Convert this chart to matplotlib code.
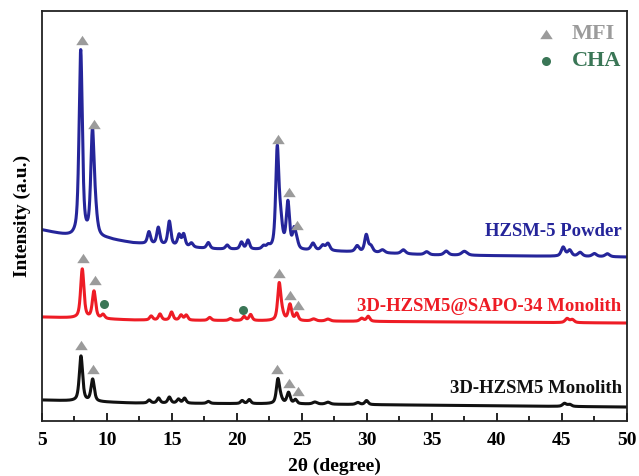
import numpy as np
import matplotlib.pyplot as plt
from matplotlib.path import Path

plt.rcParams["font.family"] = "Liberation Serif"
plt.rcParams["font.weight"] = "bold"
plt.rcParams["axes.labelweight"] = "bold"

# background knots (2theta, intensity) for each pattern, already offset
powder_bg_2theta = [5, 6, 7.3, 10, 12, 18, 22, 27, 35, 50]
powder_bg = [191, 188, 184, 182, 178, 172, 171, 170, 166, 164]
sapo_bg_2theta = [5, 7.5, 12, 25, 50]
sapo_bg = [104, 103, 101, 100, 98]
mono_bg_2theta = [5, 7.5, 12, 25, 50]
mono_bg = [21, 20, 18, 17, 14]

# reflections: position (2theta), height above background, FWHM
powder_pos = [7.98, 8.88, 9.1, 13.23, 13.95, 14.8, 15.55, 15.9, 16.5, 17.8, 19.25,
              20.35, 20.85, 22.05, 22.4, 23.1, 23.35, 23.92, 24.4, 24.6, 25.85, 26.6,
              27.0, 29.25, 29.95, 30.3, 31.2, 32.8, 34.6, 36.1, 37.5, 45.1, 45.6,
              46.4, 47.5, 48.5]
powder_height = [186, 100, 20, 12, 17, 24, 11, 12, 4, 6, 4,
                 7, 9, 3, 3, 96, 26, 46, 18, 7, 7, 5,
                 7, 6, 17, 6, 3, 4, 3, 4, 4, 9, 6,
                 4, 3, 3]
powder_fwhm = [0.3, 0.3, 0.35, 0.28, 0.28, 0.28, 0.28, 0.28, 0.3, 0.3, 0.3,
               0.28, 0.28, 0.3, 0.3, 0.28, 0.35, 0.3, 0.28, 0.3, 0.35, 0.35,
               0.35, 0.35, 0.3, 0.35, 0.4, 0.4, 0.4, 0.4, 0.5, 0.35, 0.35,
               0.4, 0.4, 0.4]

sapo_pos = [8.1, 9.0, 9.7, 13.4, 14.08, 14.97, 15.7, 16.1, 17.9, 19.5, 20.55,
            21.05, 23.25, 23.45, 24.08, 24.6, 25.9, 27.0, 29.6, 30.1, 45.4, 45.8]
sapo_height = [49, 27, 4, 4, 6, 8, 5, 5, 3, 2, 4,
               6, 35, 7, 16, 7, 2, 2, 3, 5, 4, 3]
sapo_fwhm = [0.3, 0.3, 0.3, 0.28, 0.28, 0.28, 0.28, 0.28, 0.3, 0.3, 0.28,
             0.28, 0.28, 0.35, 0.3, 0.28, 0.4, 0.4, 0.35, 0.3, 0.35, 0.35]

mono_pos = [8.0, 8.9, 13.25, 13.97, 14.8, 15.5, 15.97, 17.8, 20.4, 20.95, 23.15,
            23.35, 23.97, 24.5, 26.0, 27.0, 29.3, 29.97, 45.2, 45.6]
mono_height = [45, 22, 3, 5, 6, 4, 5, 2, 3, 4, 23,
               5, 11, 4, 2, 2, 2, 4, 3, 2]
mono_fwhm = [0.3, 0.3, 0.28, 0.28, 0.28, 0.28, 0.28, 0.3, 0.28, 0.28, 0.28,
             0.35, 0.3, 0.28, 0.4, 0.4, 0.35, 0.3, 0.35, 0.35]

# phase markers (2theta, intensity)
mfi_2theta = [8.05, 9.0, 23.15, 24.0, 24.64,
              8.13, 9.05, 23.23, 24.08, 24.7,
              8.03, 8.92, 23.1, 23.97, 24.7]
mfi_height = [381, 297, 282, 229, 196,
              163, 141, 148, 126, 116,
              76, 52, 52, 38, 30]
cha_2theta = [9.77, 20.44]
cha_height = [117, 111]

labels = ["HZSM-5 Powder", "3D-HZSM5@SAPO-34 Monolith", "3D-HZSM5 Monolith"]
label_height = [190, 115, 33]
colors = ["#25259a", "#ee1c25", "#111111"]

MFI_GREY = "#9b9b9b"
CHA_GREEN = "#3a7656"


def pattern(x, bg_x, bg_y, pos, height, fwhm, eta=0.6):
    y = np.interp(x, bg_x, bg_y)
    for p, h, w in zip(pos, height, fwhm):
        g = np.exp(-4 * np.log(2) * ((x - p) / w) ** 2)
        lor = 1 / (1 + 4 * ((x - p) / w) ** 2)
        y = y + h * (eta * lor + (1 - eta) * g)
    return y


def main():
    x = np.linspace(5, 50, 4501)
    curves = [
        pattern(x, powder_bg_2theta, powder_bg, powder_pos, powder_height, powder_fwhm),
        pattern(x, sapo_bg_2theta, sapo_bg, sapo_pos, sapo_height, sapo_fwhm),
        pattern(x, mono_bg_2theta, mono_bg, mono_pos, mono_height, mono_fwhm),
    ]

    fig = plt.figure(figsize=(6.39, 4.76), dpi=100)
    ax = fig.add_axes([0.0657, 0.1155, 0.9153, 0.8613])

    for y, c in zip(curves, colors):
        ax.plot(x, y, color=c, lw=2.2, solid_joinstyle="round")

    # triangle marker, a bit flatter than the built-in one
    tri = Path([(-1, -0.75), (1, -0.75), (0, 0.75), (-1, -0.75)], closed=True)
    ax.plot(mfi_2theta, mfi_height, ls="none", marker=tri, ms=9,
            color=MFI_GREY, mec="none")
    ax.plot(cha_2theta, cha_height, ls="none", marker="o", ms=6.5,
            color=CHA_GREEN, mec="none")

    for text, h, c in zip(labels, label_height, colors):
        ax.text(49.6, h, text, color=c, fontsize=13.5, ha="right", va="center")

    # phase key
    ax.plot([43.75], [387], ls="none", marker=tri, ms=9, color=MFI_GREY, mec="none")
    ax.plot([43.75], [360], ls="none", marker="o", ms=6.5, color=CHA_GREEN, mec="none")
    ax.text(45.75, 387, "MFI", color=MFI_GREY, fontsize=16, va="center")
    ax.text(45.75, 360, "CHA", color=CHA_GREEN, fontsize=16, va="center")

    ax.set_xlim(5, 50)
    ax.set_ylim(0, 410)
    ax.set_xticks(np.arange(5, 51, 5))
    ax.set_xticks(np.arange(7.5, 50, 5), minor=True)
    ax.set_yticks([])
    ax.tick_params(axis="x", which="major", direction="in", length=6, width=1.2,
                   labelsize=14, pad=8)
    ax.tick_params(axis="x", which="minor", direction="in", length=3.5, width=1.2)
    for s in ax.spines.values():
        s.set_linewidth(1.3)
        s.set_color("#222222")

    ax.set_xlabel("2θ (degree)", fontsize=14, labelpad=6)
    ax.set_ylabel("Intensity (a.u.)", fontsize=14, labelpad=8)

    fig.savefig("out.png", dpi=100)


if __name__ == "__main__":
    main()
